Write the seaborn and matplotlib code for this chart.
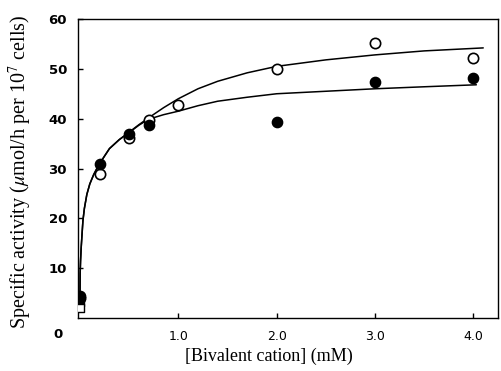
import matplotlib
matplotlib.use("Agg")
import matplotlib.pyplot as plt
import seaborn as sns
import pandas as pd
import numpy as np

# Data points
open_x = [0.0, 0.2, 0.5, 0.7, 1.0, 2.0, 3.0, 4.0]
open_y = [4.0, 28.8, 36.2, 39.8, 42.8, 49.9, 55.1, 52.1]
filled_x = [0.0, 0.2, 0.5, 0.7, 2.0, 3.0, 4.0]
filled_y = [4.4, 30.9, 37.0, 38.7, 39.4, 47.4, 48.1]
sq_open_x = [0.0]
sq_open_y = [2.1]
sq_filled_x = [0.0]
sq_filled_y = [3.2]

# Fitted curves
upper_x = [0.0, 0.002, 0.006, 0.012, 0.02, 0.03, 0.045, 0.07, 0.1, 0.14, 0.18, 0.24, 0.3, 0.4, 0.5,
           0.6, 0.7, 0.85, 1.0, 1.2, 1.4, 1.7, 2.0, 2.5, 3.0, 3.5, 4.1]
upper_y = [4.0, 9.0, 11.5, 14.0, 16.5, 19.5, 22.0, 24.8, 26.9, 28.8, 30.3, 32.2, 34.0, 35.8, 37.3,
           38.8, 40.2, 42.2, 44.0, 46.0, 47.5, 49.2, 50.5, 51.8, 52.8, 53.6, 54.2]
lower_x = [0.0, 0.002, 0.006, 0.012, 0.02, 0.03, 0.045, 0.07, 0.1, 0.14, 0.18, 0.24, 0.3, 0.4, 0.5,
           0.6, 0.7, 0.85, 1.0, 1.2, 1.4, 1.7, 2.0, 2.5, 3.0, 3.5, 4.03]
lower_y = [4.0, 9.0, 11.5, 14.0, 16.5, 19.5, 22.0, 24.8, 26.9, 28.8, 30.3, 32.2, 34.0, 35.8, 37.2,
           38.7, 39.9, 40.8, 41.5, 42.6, 43.5, 44.3, 45.0, 45.5, 46.0, 46.4, 46.8]

x_ticks = [1.0, 2.0, 3.0, 4.0]
x_tick_labels = ["1.0", "2.0", "3.0", "4.0"]
y_ticks = [10, 20, 30, 40, 50, 60]
y_tick_labels = ["10", "20", "30", "40", "50", "60"]

sns.set_style("ticks")
plt.rcParams["font.family"] = ["DejaVu Sans"]
plt.rcParams["mathtext.fontset"] = "stix"
plt.rcParams["text.color"] = "black"
plt.rcParams["axes.labelcolor"] = "black"
plt.rcParams["xtick.color"] = "black"
plt.rcParams["ytick.color"] = "black"

W, H = 501, 371
fig = plt.figure(figsize=(5.01, 3.71), dpi=100)
ax = fig.add_axes([78 / W, 1 - 318 / H, 420 / W, 299 / H])

df_up = pd.DataFrame({"x": upper_x, "y": upper_y})
df_lo = pd.DataFrame({"x": lower_x, "y": lower_y})
sns.lineplot(data=df_up, x="x", y="y", ax=ax, color="black", linewidth=1.1, sort=True, estimator=None)
sns.lineplot(data=df_lo, x="x", y="y", ax=ax, color="black", linewidth=1.1, sort=True, estimator=None)

df_open = pd.DataFrame({"x": open_x, "y": open_y})
df_filled = pd.DataFrame({"x": filled_x, "y": filled_y})
sns.scatterplot(data=df_open, x="x", y="y", ax=ax, marker="o", s=55, facecolor="white",
                edgecolor="black", linewidth=1.2, zorder=3)
sns.scatterplot(data=df_filled, x="x", y="y", ax=ax, marker="o", s=55, color="black",
                edgecolor="black", linewidth=1.0, zorder=4)
sns.scatterplot(data=pd.DataFrame({"x": sq_filled_x, "y": sq_filled_y}), x="x", y="y", ax=ax,
                marker="s", s=30, color="black", edgecolor="black", linewidth=1.0, zorder=4)
sns.scatterplot(data=pd.DataFrame({"x": sq_open_x, "y": sq_open_y}), x="x", y="y", ax=ax,
                marker="s", s=30, facecolor="white", edgecolor="black", linewidth=1.0, zorder=5)

ax.set_xlim(-0.02, 4.25)
ax.set_ylim(0, 60)
ax.set_xticks(x_ticks)
ax.set_xticklabels(x_tick_labels, fontsize=9, color="black")
ax.set_yticks(y_ticks)
ax.set_yticklabels(y_tick_labels, fontsize=9.5, fontweight="bold", color="black")
ax.tick_params(axis="both", direction="in", length=3.5, width=1.0, color="black")
ax.tick_params(axis="x", pad=8.5)
ax.tick_params(axis="y", pad=8)
for s in ax.spines.values():
    s.set_visible(True)
    s.set_linewidth(1.0)
    s.set_color("black")

fig.text(58.5 / W, 1 - 334 / H, "0", ha="center", va="center",
         fontsize=9.5, fontweight="bold", color="black")

serif = ["Liberation Serif", "DejaVu Serif"]
ax.set_xlabel("[Bivalent cation] (mM)", fontsize=13, family=serif, color="black")
ax.xaxis.set_label_coords((269 - 78) / 420, (318 - 348) / 299)
ax.set_ylabel(r"Specific activity ($\mu$mol/h per 10$^{7}$ cells)", fontsize=14.5, family=serif,
              color="black")
ax.yaxis.set_label_coords((34 - 78) / 420, (318 - 171.5) / 299)

fig.savefig("out.png", dpi=100)
